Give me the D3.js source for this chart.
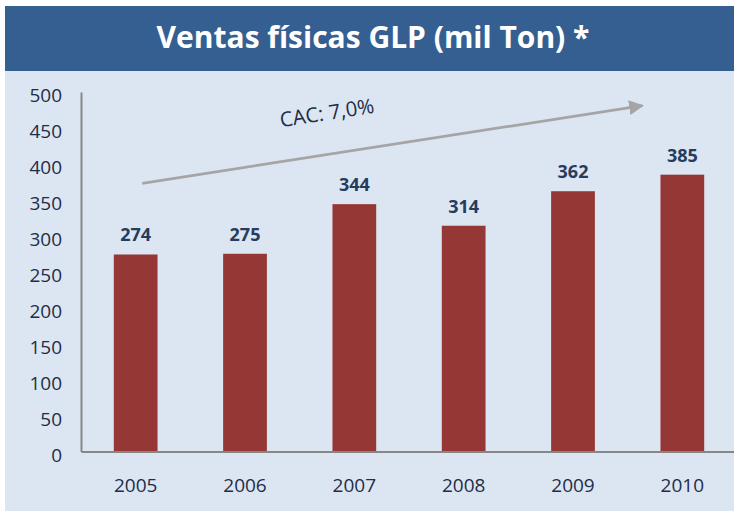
<!DOCTYPE html>
<html>
<head>
<meta charset="utf-8">
<script src="https://cdn.jsdelivr.net/npm/d3@7"></script>
<style>
  body { margin: 0; background: #ffffff; }
  svg { display: block; font-family: "Open Sans", "Noto Sans", sans-serif; }
</style>
</head>
<body>
<div id="chart"></div>
<script>
// data
const years = ["2005", "2006", "2007", "2008", "2009", "2010"];
const sales = [274, 275, 344, 314, 362, 385];
const yTicks = [0, 50, 100, 150, 200, 250, 300, 350, 400, 450, 500];
const titleText = "Ventas físicas GLP (mil Ton) *";
const cagrText = "CAC: 7,0%";
// trend arrow, in data units (value at start / end)
const trendFrom = 373;
const trendTo = 481;

const width = 734, height = 511;
const margin = { top: 92, left: 81, right: -3, bottom: 59.5 };

const svg = d3.select("#chart").append("svg")
    .attr("width", width)
    .attr("height", height);

// panel background
svg.append("rect")
    .attr("x", 5).attr("y", 6)
    .attr("width", width - 5).attr("height", height - 6)
    .attr("fill", "#dce6f2");

// title band
svg.append("rect")
    .attr("x", 5).attr("y", 6)
    .attr("width", width - 5).attr("height", 65)
    .attr("fill", "#365f91");

svg.append("text")
    .attr("x", 373).attr("y", 48)
    .attr("text-anchor", "middle")
    .attr("fill", "#ffffff")
    .attr("font-size", 30)
    .attr("font-weight", "bold")
    .text(titleText);

// scales
let x = d3.scaleBand()
    .domain(years)
    .range([margin.left, width - margin.right])
    .paddingInner(0.6)
    .paddingOuter(0.3);

let y = d3.scaleLinear()
    .domain([0, 500])
    .range([height - margin.bottom, margin.top]);

// y axis
let yAxis = d3.axisLeft(y).tickValues(yTicks).tickSize(0).tickPadding(19);
let gy = svg.append("g")
    .attr("transform", "translate(" + margin.left + ",0)")
    .call(yAxis);
gy.select(".domain").attr("stroke", "#878787").attr("stroke-width", 2);
gy.selectAll("text")
    .attr("font-size", 19)
    .attr("fill", "#1f2d47")
    .attr("dy", "0.5em")
    .attr("font-family", "Open Sans");

// bars
svg.append("g")
    .selectAll("rect")
    .data(sales)
    .enter()
    .append("rect")
    .attr("x", (d, i) => x(years[i]))
    .attr("y", d => y(d))
    .attr("width", x.bandwidth())
    .attr("height", d => y(0) - y(d))
    .attr("fill", "#953735");

// value labels
svg.append("g")
    .selectAll("text")
    .data(sales)
    .enter()
    .append("text")
    .attr("x", (d, i) => x(years[i]) + x.bandwidth() / 2)
    .attr("y", d => y(d) - 13)
    .attr("text-anchor", "middle")
    .attr("font-size", 18)
    .attr("font-weight", "bold")
    .attr("fill", "#263c5e")
    .text(d => d);

// x axis
let xAxis = d3.axisBottom(x).tickSize(0).tickPadding(27);
let gx = svg.append("g")
    .attr("transform", "translate(0," + y(0) + ")")
    .call(xAxis);
gx.select(".domain").attr("stroke", "#878787").attr("stroke-width", 2);
gx.selectAll("text")
    .attr("font-size", 19)
    .attr("fill", "#1f2d47")
    .attr("font-family", "Open Sans");

// trend arrow
svg.append("defs").append("marker")
    .attr("id", "head")
    .attr("viewBox", "0 0 10 10")
    .attr("refX", 9).attr("refY", 5)
    .attr("markerWidth", 5.5).attr("markerHeight", 5.5)
    .attr("orient", "auto")
    .attr("markerUnits", "strokeWidth")
    .append("path")
    .attr("d", "M0,0 L10,5 L0,10 Z")
    .attr("fill", "#a5a5a5");

let x1 = x(years[0]) + x.bandwidth() * 0.65;
let x2 = x(years[years.length - 1]) - 18;
svg.append("line")
    .attr("x1", x1).attr("y1", y(trendFrom))
    .attr("x2", x2).attr("y2", y(trendTo))
    .attr("stroke", "#a5a5a5")
    .attr("stroke-width", 2.7)
    .attr("marker-end", "url(#head)");

let ang = Math.atan2(y(trendTo) - y(trendFrom), x2 - x1) * 180 / Math.PI;
svg.append("text")
    .attr("transform", "translate(328,120) rotate(" + ang + ")")
    .attr("text-anchor", "middle")
    .attr("font-size", 20.5)
    .attr("fill", "#1f2d47")
    .text(cagrText);
</script>
</body>
</html>
